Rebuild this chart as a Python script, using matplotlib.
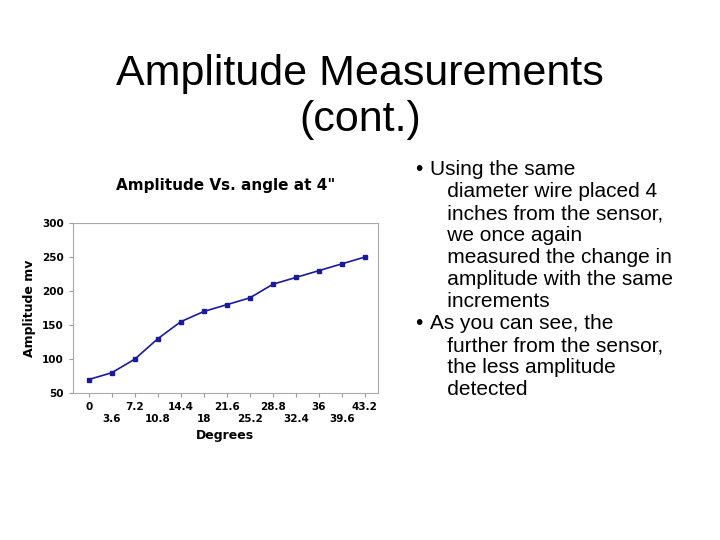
import matplotlib
matplotlib.use("Agg")
import matplotlib.pyplot as plt

# data
degrees = ["0", "3.6", "7.2", "10.8", "14.4", "18", "21.6", "25.2",
           "28.8", "32.4", "36", "39.6", "43.2"]
amplitude = [70, 80, 100, 130, 155, 170, 180, 190, 210, 220, 230, 240, 250]

fig = plt.figure(figsize=(7.2, 5.4), dpi=100)
fig.patch.set_facecolor("white")

fig.text(0.5, 0.82, "Amplitude Measurements\n(cont.)", ha="center", va="center",
         fontsize=31, family="Liberation Sans", linespacing=1.2)

body = ("Using the same\n  diameter wire placed 4\n  inches from the sensor,\n"
        "  we once again\n  measured the change in\n  amplitude with the same\n"
        "  increments\nAs you can see, the\n  further from the sensor,\n"
        "  the less amplitude\n  detected")
body = body.replace("\n  ", "\n   ")
lines = body.split("\n")
marks = "\n".join("•" if not l.startswith(" ") else "" for l in lines)
fig.text(415 / 720, 1 - 160 / 540, marks, ha="left", va="top", fontsize=15,
         family="Liberation Sans", linespacing=1.2)
fig.text(430 / 720, 1 - 160 / 540, "\n".join(l.strip() if not l.startswith(" ") else l for l in lines),
         ha="left", va="top", fontsize=15, family="Liberation Sans", linespacing=1.2)

ax = fig.add_axes([0.101, 0.272, 0.424, 0.315])
x = list(range(len(degrees)))
ax.plot(x, amplitude, color="#1a1a9a", lw=1.2, marker="s", ms=3)
ax.set_xlim(-0.7, 12.57)
ax.set_ylim(50, 300)
ax.set_yticks([50, 100, 150, 200, 250, 300])
ax.set_xticks(x)
ax.set_xticklabels([d if i % 2 == 0 else "\n" + d for i, d in enumerate(degrees)])
ax.tick_params(labelsize=7.5, length=3, color="#999999")
for lab in ax.get_xticklabels() + ax.get_yticklabels():
    lab.set_fontweight("bold")
for s in ax.spines.values():
    s.set_color("#aaaaaa")
ax.set_xlabel("Degrees", fontsize=9, fontweight="bold")
ax.set_ylabel("Amplitude mv", fontsize=9, fontweight="bold")
ax.set_title("Amplitude Vs. angle at 4\"", fontsize=11, fontweight="bold", pad=24)

fig.savefig("out.png", dpi=100)
